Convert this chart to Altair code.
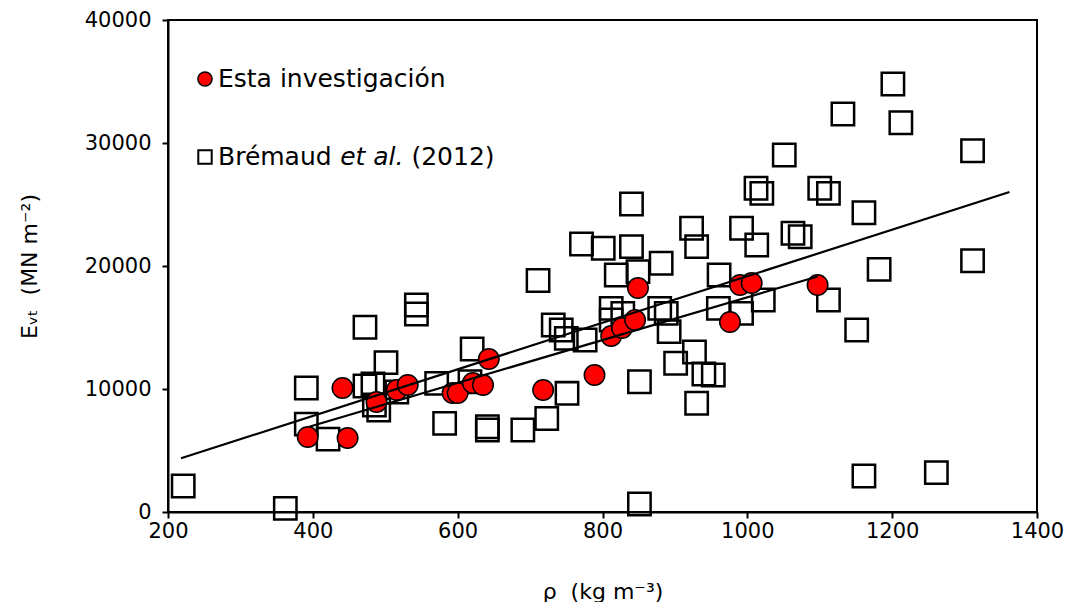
import altair as alt
import pandas as pd

# Esta investigación (red circles)
red_x = [393, 448, 441, 488, 516, 531, 593, 600, 621, 635, 643, 718, 789, 812, 827, 845, 849, 976, 990, 1006, 1097]
red_y = [6100, 6020, 10080, 8940, 9920, 10330, 9670, 9670, 10490, 10330, 12440, 9920, 11140, 14310, 14960, 15610,
         18210, 15450, 18460, 18620, 18460]

# Brémaud et al. (2012) (open squares)
sq_x = [221, 362, 391, 391, 421, 472, 501, 543, 543, 472, 483, 485, 491, 516, 571, 582, 620, 617, 641, 641,
        690, 723, 711, 771, 801, 840, 881, 819, 849, 923, 930, 812, 812, 828, 879, 888, 892, 732, 743, 750,
        776, 901, 927, 851, 751, 930, 940, 953, 1201, 1212, 1132, 1051, 1012, 1020, 1100, 1112, 1161, 992,
        1013, 1063, 1073, 961, 1022, 992, 960, 1112, 1182, 1151, 1311, 1311, 1161, 1261, 851, 840]
sq_y = [2110, 300, 10080, 7150, 5930, 15020, 12140, 16830, 16100, 10240, 10410, 8700, 8290, 9760, 10460, 7210,
        13250, 10590, 6930, 6670, 6670, 7600, 18820, 21790, 21440, 21570, 20220, 19270, 19540, 23070, 21570,
        16560, 15610, 16150, 16560, 16150, 14660, 15200, 14800, 14120, 13980, 12090, 13010, 10590, 9650, 8840,
        11220, 11140, 34800, 31650, 32360, 29020, 26320, 25910, 26320, 25910, 24330, 23070, 21710, 22660,
        22380, 19270, 17240, 16150, 16560, 17240, 19730, 14800, 29370, 20430, 2930, 3200, 650, 25040]

# Regression lines (end points)
fit_series = ["todos", "todos", "esta", "esta"]
fit_x = [218, 1362, 395, 1097]
fit_y = [4370, 26020, 6930, 19150]

x_ticks = [200, 400, 600, 800, 1000, 1200, 1400]
y_ticks = [0, 10000, 20000, 30000, 40000]

FONT = "DejaVu Sans"
NB = "\u00a0"

red_df = pd.DataFrame({"rho": red_x, "E": red_y})
sq_df = pd.DataFrame({"rho": sq_x, "E": sq_y})
fit_df = pd.DataFrame({"serie": fit_series, "rho": fit_x, "E": fit_y})

xs = alt.Scale(domain=[200, 1400], nice=False, zero=False)
ys = alt.Scale(domain=[0, 40000], nice=False)

xax = alt.Axis(values=x_ticks, title="ρ" + NB + " (kg m⁻³)", grid=False,
               labelFontSize=21, titleFontSize=22, titlePadding=40, labelPadding=2, tickSize=6,
               labelFlush=False, format="d")
yax = alt.Axis(values=y_ticks, title="Eᵥₜ" + NB + " (MN m⁻²)", grid=False,
               labelFontSize=21, titleFontSize=22, titlePadding=43, labelPadding=11, tickSize=6,
               labelFlush=False, format="d")

squares = alt.Chart(sq_df).mark_point(shape="square", size=500, filled=False, stroke="black",
                                      strokeWidth=2.5, opacity=1).encode(
    x=alt.X("rho:Q", scale=xs, axis=xax),
    y=alt.Y("E:Q", scale=ys, axis=yax),
)

reds = alt.Chart(red_df).mark_point(shape="circle", size=420, filled=True, fill="#ff0000", stroke="black",
                                    strokeWidth=1.5, opacity=1).encode(
    x=alt.X("rho:Q", scale=xs),
    y=alt.Y("E:Q", scale=ys),
)

lines = alt.Chart(fit_df).mark_line(color="black", strokeWidth=2.2).encode(
    x=alt.X("rho:Q", scale=xs),
    y=alt.Y("E:Q", scale=ys),
    detail="serie:N",
)

LFS = 25
EM = LFS
x0 = 50
x_et = x0 + (4.568 + 0.318) * EM
x_yr = x_et + (2.534 + 0.318) * EM

one = pd.DataFrame({"k": [0]})
leg_circle = alt.Chart(one).mark_point(shape="circle", size=200, filled=True, fill="#ff0000",
                                       stroke="black", strokeWidth=1.5, opacity=1).encode(
    x=alt.value(37), y=alt.value(59))
leg_square = alt.Chart(one).mark_point(shape="square", size=180, filled=False, stroke="black",
                                       strokeWidth=2, opacity=1).encode(
    x=alt.value(37), y=alt.value(137))


def leg_text(txt, x, y, style="normal"):
    return alt.Chart(one).mark_text(align="left", baseline="middle", fontSize=LFS, font=FONT,
                                    fontStyle=style, color="black").encode(
        x=alt.value(x), y=alt.value(y), text=alt.value(txt))


leg_t1 = leg_text("Esta investigación", x0, 59)
leg_t2 = leg_text("Brémaud", x0, 137)
leg_t3 = leg_text("et al.", x_et, 137, "italic")
leg_t4 = leg_text("(2012)", x_yr, 137)

chart = alt.layer(squares, reds, lines, leg_circle, leg_square, leg_t1, leg_t2, leg_t3, leg_t4).properties(
    width=869, height=492,
    autosize=alt.AutoSizeParams(type="none"),
    padding={"left": 160, "top": 12, "right": 30, "bottom": 90},
    background="white",
).configure_view(stroke="black", strokeWidth=2).configure_axis(
    labelFont=FONT, titleFont=FONT, labelColor="black", titleColor="black",
    domainColor="black", tickColor="black", domainWidth=2, tickWidth=2, titleFontWeight="normal",
)

chart.save("out.html", embed_options={"renderer": "svg", "actions": False})
